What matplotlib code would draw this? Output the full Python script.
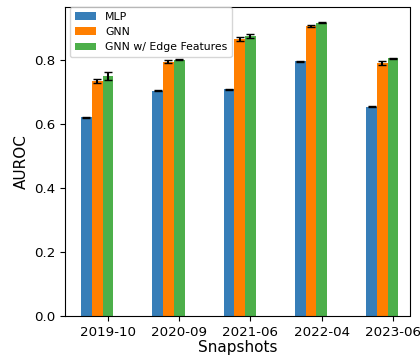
import numpy as np
import matplotlib
matplotlib.use('Agg')
import matplotlib.pyplot as plt

# Donnees
snapshots = ['2019-10', '2020-09', '2021-06', '2022-04', '2023-06']
mlp = [0.621, 0.705, 0.709, 0.796, 0.655]
mlp_err = [0.001, 0.001, 0.001, 0.001, 0.001]
gnn = [0.734, 0.795, 0.866, 0.907, 0.792]
gnn_err = [0.007, 0.005, 0.007, 0.003, 0.006]
gnn_edge = [0.751, 0.801, 0.876, 0.917, 0.806]
gnn_edge_err = [0.012, 0.002, 0.006, 0.002, 0.002]

x = np.arange(len(snapshots))
w = 0.15

fig, ax = plt.subplots(figsize=(4.2, 3.56), dpi=100)
fig.subplots_adjust(left=0.155, right=0.975, bottom=0.112, top=0.9795)

ax.bar(x, mlp, w, yerr=mlp_err, capsize=3, color='#377eb8', label='MLP')
ax.bar(x + w, gnn, w, yerr=gnn_err, capsize=3, color='#ff7f00', label='GNN')
ax.bar(x + 2 * w, gnn_edge, w, yerr=gnn_edge_err, capsize=3, color='#4daf4a',
       label='GNN w/ Edge Features')

ax.set_xticks(x + 2 * w)
ax.set_xticklabels(snapshots)
ax.set_xlim(-0.30, 4.53)
ax.set_ylim(0, 0.965)
ax.set_xlabel('Snapshots', fontsize=11, labelpad=1)
ax.set_ylabel('AUROC', fontsize=11)
ax.tick_params(labelsize=9.6)
ax.legend(loc='upper left', bbox_to_anchor=(0.015, 1.0), borderaxespad=0,
          fontsize=7.8)

plt.savefig('out.png', dpi=100)
